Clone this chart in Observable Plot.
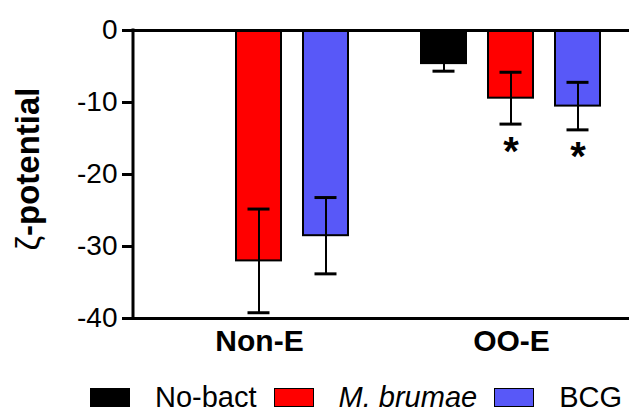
<!DOCTYPE html>
<html>
<head>
<meta charset="utf-8">
<script src="https://cdn.jsdelivr.net/npm/d3@7"></script>
<script src="https://cdn.jsdelivr.net/npm/@observablehq/plot@0.6"></script>
<style>
  html, body { margin: 0; padding: 0; background: #fff; overflow: hidden; }
  #wrap { position: relative; width: 629px; height: 412px; font-family: "Liberation Sans", Arial, sans-serif; color: #000; }
  #ylabel { position: absolute; left: 28px; top: 169px; transform: translate(-50%, -50%) rotate(-90deg); font-size: 33px; font-weight: bold; white-space: nowrap; }
  #legend { position: absolute; left: 90px; top: 382px; display: flex; align-items: center; height: 30px; font-size: 29px; line-height: 30px; white-space: nowrap; }
  .sw { width: 38px; height: 17px; border: 1.5px solid #000; margin-right: 25px; }
  .lt { margin-right: 17px; }
</style>
</head>
<body>
<div id="wrap">
  <div id="chart"></div>
  <div id="ylabel"><span style="font-weight:normal">ζ</span>-potential</div>
  <div id="legend"></div>
</div>
<script>
const groups = ["Non-E", "OO-E"];
const series = ["No-bact", "M. brumae", "BCG"];
const seriesColors = ["#000000", "#ff0000", "#5858f8"];
const yTicks = [0, -10, -20, -30, -40];
// mean values per group, in series order
const nonE = [0, -32.0, -28.5];
const ooE = [-4.6, -9.4, -10.5];
// standard deviations
const nonESd = [0, 7.2, 5.3];
const ooESd = [1.05, 3.6, 3.3];
// significance marks
const nonESig = ["", "", ""];
const ooESig = ["", "*", "*"];

const data = [];
series.forEach((s, i) => {
  data.push({group: "Non-E", series: s, value: nonE[i], sd: nonESd[i], sig: nonESig[i]});
  data.push({group: "OO-E", series: s, value: ooE[i], sd: ooESd[i], sig: ooESig[i]});
});
const errData = data.filter(d => d.sd > 0).map(d => ({...d, lo: d.value - d.sd, hi: d.value + d.sd}));
const sigData = errData.filter(d => d.sig);

const font = "Liberation Sans, Arial, sans-serif";
const plot = Plot.plot({
  width: 629,
  height: 372,
  marginLeft: 133,
  marginRight: 0,
  marginTop: 30,
  marginBottom: 54,
  style: {fontFamily: font, color: "#000", background: "#fff"},
  fx: {domain: groups, range: [133, 637], paddingInner: 0, paddingOuter: 0, label: null},
  x: {domain: series, paddingInner: 0.324, paddingOuter: 0.515, axis: null},
  y: {domain: [-40, 0], label: null},
  color: {domain: series, range: seriesColors},
  marks: [
    Plot.barY(data, {fx: "group", x: "series", y1: 0, y2: "value", fill: "series", stroke: "#000", strokeWidth: 2}),
    Plot.ruleX(errData, {fx: "group", x: "series", y1: "lo", y2: "hi", stroke: "#000", strokeWidth: 2}),
    Plot.tickY(errData, {fx: "group", x: "series", y: "lo", stroke: "#000", strokeWidth: 3, insetLeft: 11.5, insetRight: 11.5}),
    Plot.tickY(errData, {fx: "group", x: "series", y: "hi", stroke: "#000", strokeWidth: 3, insetLeft: 11.5, insetRight: 11.5}),
    Plot.text(sigData, {fx: "group", x: "series", y: "lo", text: "sig", lineAnchor: "top", dy: 12, fontSize: 40, fontWeight: "bold", fill: "#000"}),
    Plot.ruleY([0, -40], {stroke: "#000", strokeWidth: 3}),
    Plot.axisY({ticks: yTicks, tickFormat: d => String(d), tickSize: 11, tickPadding: 5, strokeWidth: 3, fontSize: 28, label: null, stroke: "#000", fill: "#000"}),
    Plot.axisFx({anchor: "bottom", tickSize: 0, tickPadding: 11, fontSize: 30, fontWeight: "bold", label: null, fill: "#000"})
  ]
});
document.getElementById("chart").appendChild(plot);

// y-axis line, positioned by the library's scales
const ys = plot.scale("y");
const fxs = plot.scale("fx");
d3.select(plot).append("line")
  .attr("x1", fxs.range[0]).attr("x2", fxs.range[0])
  .attr("y1", ys.apply(0) - 1.5).attr("y2", ys.apply(-40) + 1.5)
  .attr("stroke", "#000").attr("stroke-width", 3);

// legend
const legend = d3.select("#legend");
series.forEach((s, i) => {
  legend.append("div").attr("class", "sw").style("background", seriesColors[i]);
  const t = legend.append("div").attr("class", "lt").text(s);
  if (s === "M. brumae") t.style("font-style", "italic");
});
</script>
</body>
</html>
